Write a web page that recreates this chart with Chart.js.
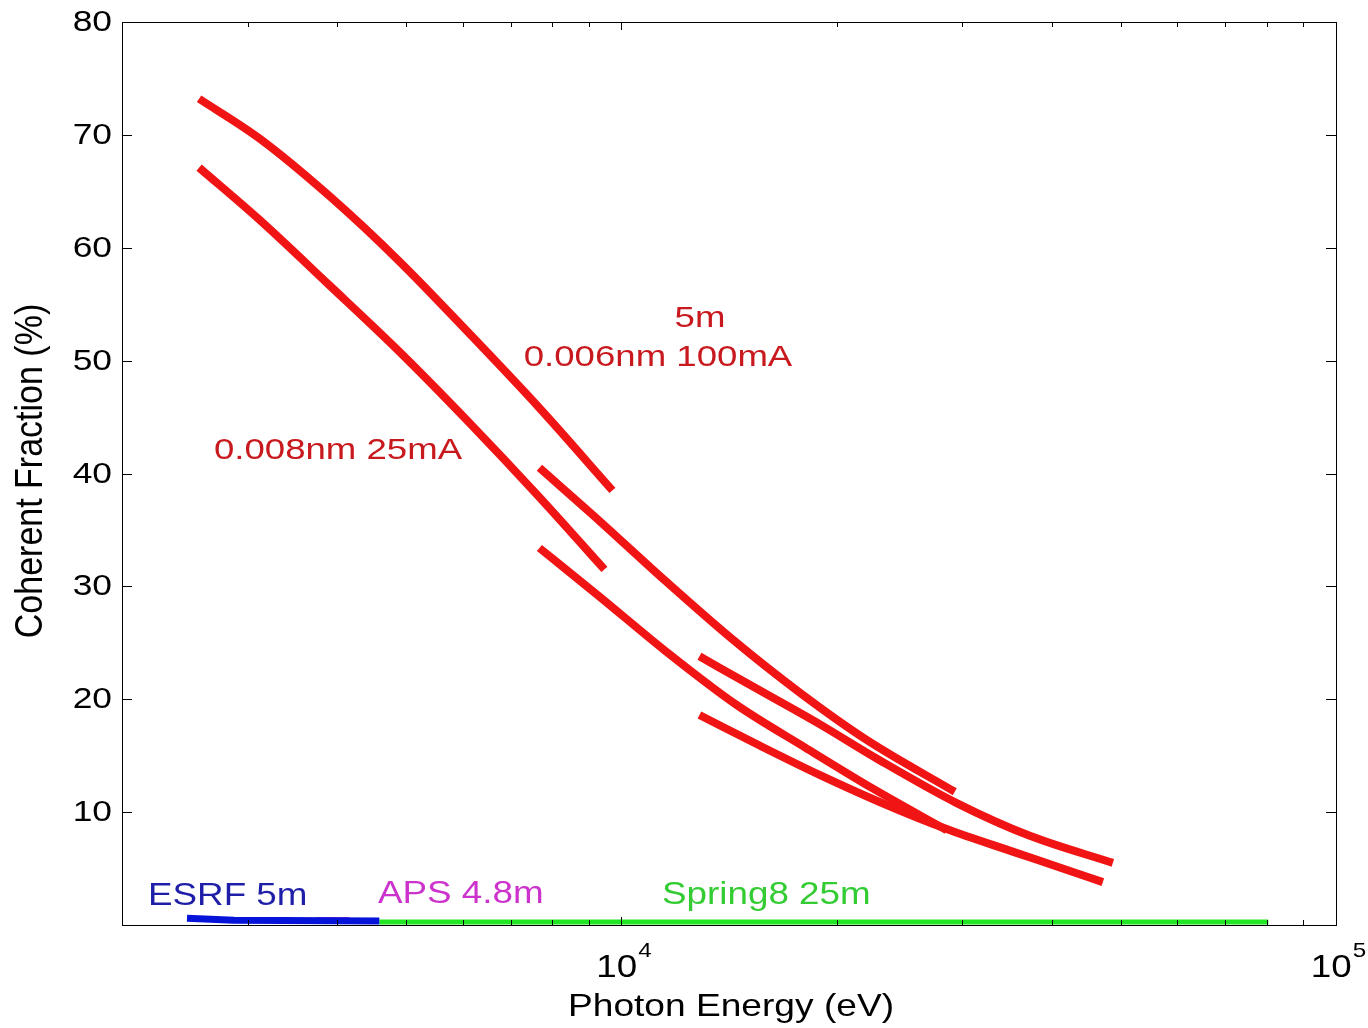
<!DOCTYPE html>
<html><head><meta charset="utf-8">
<script src="https://cdn.jsdelivr.net/npm/chart.js@4.4.1/dist/chart.umd.min.js"></script>
<style>html,body{margin:0;padding:0;background:#fff;} #c{display:block;}</style>
</head><body>
<canvas id="c" width="1368" height="1028"></canvas>
<script>
// ---- data (photon energy in eV, coherent fraction in %) ----
const energy_006_h1 = [2564, 3112, 3899, 4888, 6125, 7677, 9714];
const cf_006_h1     = [73.2, 69.7, 64.6, 58.8, 52.4, 45.8, 38.5];
const energy_006_h3 = [7677, 9316, 11562, 14306, 17755, 22035, 29271];
const cf_006_h3     = [40.5, 35.8, 30.4, 25.3, 20.6, 16.4, 11.8];
const energy_006_h5 = [12858, 15607, 18935, 22978, 29459, 37275, 48722];
const cf_006_h5     = [23.8, 20.8, 17.8, 14.6, 10.8, 7.9, 5.5];

const energy_008_h1 = [2564, 3112, 3899, 4888, 6125, 7677, 9467];
const cf_008_h1     = [67.1, 62.5, 56.7, 50.8, 44.5, 37.9, 31.5];
const energy_008_h3 = [7677, 9316, 11562, 14491, 18102, 22466, 28522];
const cf_008_h3     = [33.4, 29.1, 24.2, 19.5, 15.7, 12.1, 8.4];
const energy_008_h5 = [12858, 15607, 18935, 22978, 28522, 35275, 41052, 47175];
const cf_008_h5     = [18.6, 15.9, 13.3, 10.9, 8.5, 6.5, 5.1, 3.8];

const energy_esrf = [2466, 2870, 4583];
const cf_esrf     = [0.6, 0.42, 0.35];
const energy_aps  = [3740, 4160];
const cf_aps      = [0.45, 0.45];
const energy_spring8 = [4583, 80400];
const cf_spring8     = [0.27, 0.27];

const yTickValues = [10, 20, 30, 40, 50, 60, 70, 80];
const yTickLabels = ['10', '20', '30', '40', '50', '60', '70', '80'];
const xMajorTicks = [10000, 100000];
const xMajorExponents = ['4', '5'];
const xMinorTicks = [2000, 3000, 4000, 5000, 6000, 7000, 8000, 9000, 20000, 30000, 40000, 50000, 60000, 70000, 80000, 90000];

const xTitle = 'Photon Energy (eV)';
const yTitle = 'Coherent Fraction (%)';

// ---- helpers ----
const zip = (xs, ys) => xs.map((v, i) => ({x: v, y: ys[i]}));
const RED = '#f01414';
const FONT = "'Liberation Sans', Arial, sans-serif";

function redLine(xs, ys) {
  return {data: zip(xs, ys), borderColor: RED, borderWidth: 8, cubicInterpolationMode: 'monotone',
          borderCapStyle: 'butt', pointRadius: 0, order: 0};
}
function flatLine(xs, ys, color, w, order) {
  return {data: zip(xs, ys), borderColor: color, borderWidth: w, tension: 0,
          borderCapStyle: 'butt', pointRadius: 0, order: order};
}

function drawText(ctx, text, x, y, o) {
  ctx.save();
  ctx.translate(x, y);
  ctx.scale(o.sx || 1, 1);
  if (o.rot) ctx.rotate(o.rot);
  ctx.font = (o.size || 30) + 'px ' + FONT;
  ctx.fillStyle = o.color || '#000';
  ctx.textAlign = o.align || 'left';
  ctx.textBaseline = o.baseline || 'alphabetic';
  ctx.fillText(text, 0, 0);
  ctx.restore();
}
function measure(ctx, text, size, sx) {
  ctx.save(); ctx.font = size + 'px ' + FONT;
  const w = ctx.measureText(text).width * sx; ctx.restore(); return w;
}

const annotations = [
  {text: '5m', x: 700, y: 327, size: 30, sx: 1.22, color: '#c8191e', align: 'center'},
  {text: '0.006nm 100mA', x: 658, y: 366, size: 30, sx: 1.22, color: '#c8191e', align: 'center'},
  {text: '0.008nm 25mA', x: 338, y: 459, size: 30, sx: 1.22, color: '#c8191e', align: 'center'},
  {text: 'ESRF 5m', x: 148, y: 905, size: 32, sx: 1.15, color: '#1e1ea8', align: 'left'},
  {text: 'APS 4.8m', x: 378, y: 903, size: 32, sx: 1.15, color: '#cc33cc', align: 'left'},
  {text: 'Spring8 25m', x: 662, y: 904, size: 32, sx: 1.15, color: '#33cc33', align: 'left'}
];

const axesPlugin = {
  id: 'matlabAxes',
  beforeDraw(chart) {
    const ctx = chart.ctx;
    ctx.save(); ctx.fillStyle = '#fff'; ctx.fillRect(0, 0, chart.width, chart.height); ctx.restore();
  },
  afterDraw(chart) {
    const {ctx, chartArea: a, scales: {x, y}} = chart;
    ctx.save();
    ctx.strokeStyle = '#000';
    ctx.lineWidth = 1;
    const seg = (x1, y1, x2, y2) => { ctx.beginPath(); ctx.moveTo(x1, y1); ctx.lineTo(x2, y2); ctx.stroke(); };
    ctx.strokeRect(a.left + 0.5, a.top + 0.5, a.right - a.left, a.bottom - a.top);
    yTickValues.forEach(v => {
      const py = Math.round(y.getPixelForValue(v)) + 0.5;
      seg(a.left, py, a.left + 10, py);
      seg(a.right, py, a.right - 10, py);
    });
    xMajorTicks.forEach(v => {
      const px = Math.round(x.getPixelForValue(v)) + 0.5;
      seg(px, a.bottom, px, a.bottom - 8);
      seg(px, a.top, px, a.top + 8);
    });
    xMinorTicks.forEach(v => {
      const px = Math.round(x.getPixelForValue(v)) + 0.5;
      seg(px, a.bottom, px, a.bottom - 5);
      seg(px, a.top, px, a.top + 5);
    });
    ctx.restore();

    yTickValues.forEach((v, i) => {
      drawText(ctx, yTickLabels[i], a.left - 10, y.getPixelForValue(v) + 1,
               {size: 29, sx: 1.22, align: 'right', baseline: 'middle'});
    });
    xMajorTicks.forEach((v, i) => {
      const px = x.getPixelForValue(v);
      const w1 = measure(ctx, '10', 32, 1.15);
      const w2 = measure(ctx, xMajorExponents[i], 21, 1.15);
      const left = px - (w1 + w2) / 2 + 2;
      drawText(ctx, '10', left, 977, {size: 32, sx: 1.15});
      drawText(ctx, xMajorExponents[i], left + w1 + 1, 957, {size: 21, sx: 1.15});
    });
    drawText(ctx, xTitle, (a.left + a.right) / 2 + 2, 1016, {size: 32, sx: 1.16, align: 'center'});
    drawText(ctx, yTitle, 31, 471, {size: 34, sx: 1.15, align: 'center', baseline: 'middle', rot: -Math.PI / 2});
    annotations.forEach(t => drawText(ctx, t.text, t.x, t.y, t));
  }
};

new Chart(document.getElementById('c'), {
  type: 'line',
  data: {
    datasets: [
      redLine(energy_006_h1, cf_006_h1),
      redLine(energy_006_h3, cf_006_h3),
      redLine(energy_006_h5, cf_006_h5),
      redLine(energy_008_h1, cf_008_h1),
      redLine(energy_008_h3, cf_008_h3),
      redLine(energy_008_h5, cf_008_h5),
      flatLine(energy_esrf, cf_esrf, '#0514d8', 7, 1),
      flatLine(energy_aps, cf_aps, '#dd33dd', 6, 2),
      flatLine(energy_spring8, cf_spring8, '#22e622', 5, 3)
    ]
  },
  options: {
    responsive: false,
    animation: false,
    devicePixelRatio: 1,
    layout: {padding: {left: 122, top: 22, right: 32, bottom: 103}},
    plugins: {legend: {display: false}, tooltip: {enabled: false}},
    scales: {
      x: {type: 'logarithmic', min: 2000, max: 100000, display: false},
      y: {type: 'linear', min: 0, max: 80, display: false}
    }
  },
  plugins: [axesPlugin]
});
</script>
</body></html>
